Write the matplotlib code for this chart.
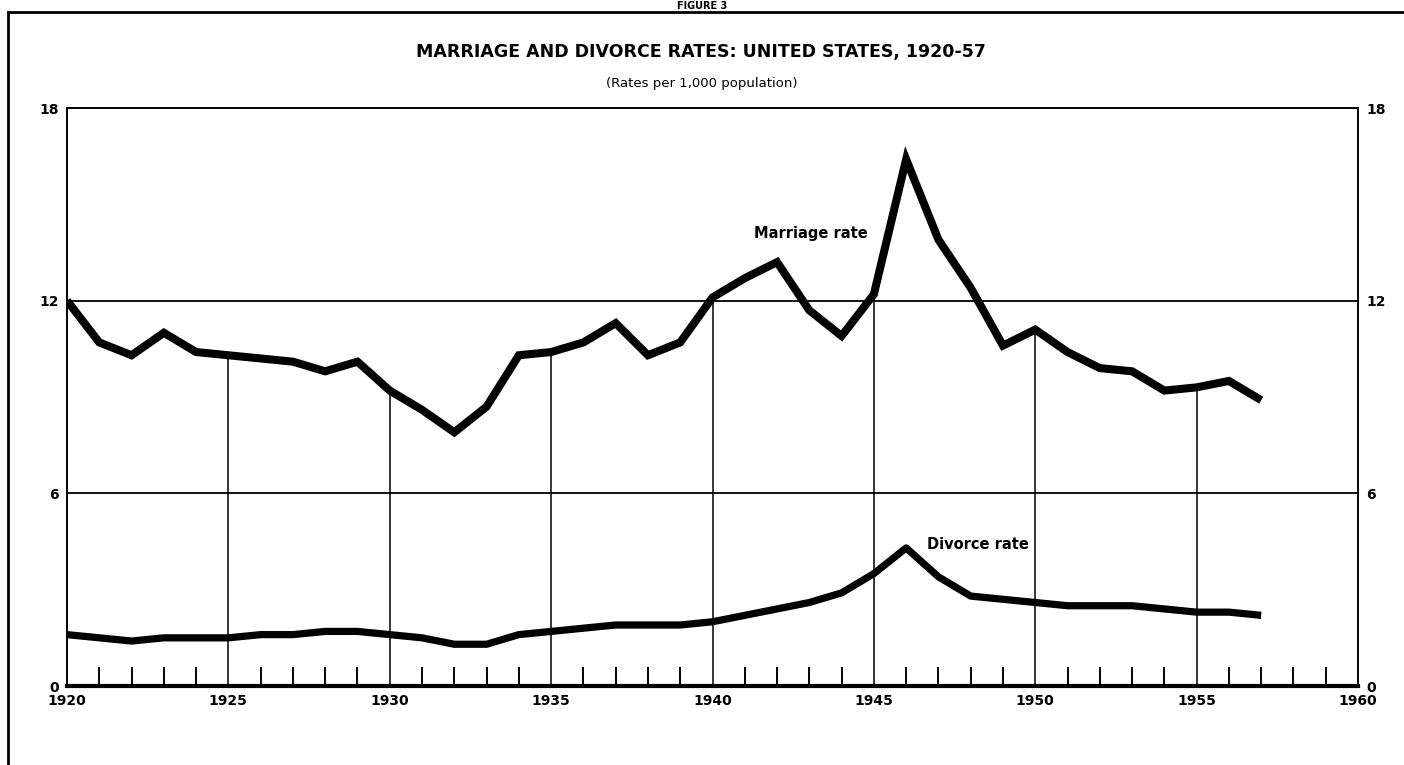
import matplotlib.pyplot as plt
from matplotlib.lines import Line2D
import numpy as np

# Datos: tasas por 1,000 habitantes
anios = list(range(1920, 1958))
tasa_matrimonio = [12.0, 10.7, 10.3, 11.0, 10.4, 10.3, 10.2, 10.1, 9.8, 10.1,
                   9.2, 8.6, 7.9, 8.7, 10.3, 10.4, 10.7, 11.3, 10.3, 10.7,
                   12.1, 12.7, 13.2, 11.7, 10.9, 12.2, 16.4, 13.9, 12.4, 10.6,
                   11.1, 10.4, 9.9, 9.8, 9.2, 9.3, 9.5, 8.9]
tasa_divorcio = [1.6, 1.5, 1.4, 1.5, 1.5, 1.5, 1.6, 1.6, 1.7, 1.7,
                 1.6, 1.5, 1.3, 1.3, 1.6, 1.7, 1.8, 1.9, 1.9, 1.9,
                 2.0, 2.2, 2.4, 2.6, 2.9, 3.5, 4.3, 3.4, 2.8, 2.7,
                 2.6, 2.5, 2.5, 2.5, 2.4, 2.3, 2.3, 2.2]
ticks_y = [0, 6, 12, 18]
ticks_x = [1920, 1925, 1930, 1935, 1940, 1945, 1950, 1955, 1960]

titulo = "MARRIAGE AND DIVORCE RATES: UNITED STATES, 1920-57"
subtitulo = "(Rates per 1,000 population)"

plt.rcParams['font.family'] = ['DejaVu Sans']

fig = plt.figure(figsize=(14.04, 7.65), dpi=100)
ax = fig.add_axes([67 / 1404, 1 - 686 / 765, (1358 - 67) / 1404, (686 - 108) / 765])

# Lineas de referencia horizontales
for y in [6, 12]:
    ax.axhline(y, color='black', linewidth=1.3, zorder=1)

# Lineas verticales hasta la curva de matrimonio
for x in ticks_x[1:-1]:
    ax.vlines(x, 0, tasa_matrimonio[anios.index(x)], color='black', linewidth=1.1, zorder=1)

# Marcas pequeñas de cada año
marcas = [a for a in range(1921, 1960) if a % 5 != 0]
ax.vlines(marcas, 0, 0.6, color='black', linewidth=1.4, zorder=1)

ax.plot(anios, tasa_matrimonio, color='black', linewidth=5.8,
        solid_joinstyle='miter', solid_capstyle='butt', zorder=3)
ax.plot(anios, tasa_divorcio, color='black', linewidth=5.2,
        solid_joinstyle='round', solid_capstyle='butt', zorder=3)

ax.text(1941.3, 14.1, "Marriage rate", fontsize=10.5, fontweight='bold', va='center', ha='left')
ax.text(1946.65, 4.4, "Divorce rate", fontsize=10.5, fontweight='bold', va='center', ha='left')

ax.set_xlim(1920, 1960)
ax.set_ylim(0, 18)
ax.set_xticks(ticks_x)
ax.set_xticklabels([str(t) for t in ticks_x], fontsize=10, fontweight='bold')
ax.set_yticks(ticks_y)
ax.set_yticklabels([str(t) for t in ticks_y], fontsize=10, fontweight='bold')
ax.tick_params(axis='x', length=0, pad=6)
ax.tick_params(axis='y', length=0, pad=6, labelright=True)

for lado in ['left', 'right', 'top']:
    ax.spines[lado].set_linewidth(1.4)
ax.spines['bottom'].set_linewidth(3)

# Titulos
fig.text(0.4995, 1 - 52 / 765, titulo, fontsize=12.5, fontweight='bold', ha='center', va='center')
fig.text(0.4995, 1 - 84 / 765, subtitulo, fontsize=9.5, ha='center', va='center')
fig.text(0.5, 1 - 11 / 765, "FIGURE 3", fontsize=7, fontweight='bold', ha='center', va='bottom')

# Marco exterior
y_marco = 1 - 12 / 765
x_marco = 8 / 1404
fig.add_artist(Line2D([x_marco, 1], [y_marco, y_marco], color='black', linewidth=2))
fig.add_artist(Line2D([x_marco, x_marco], [0, y_marco], color='black', linewidth=2))

fig.savefig("out.png", dpi=100)
